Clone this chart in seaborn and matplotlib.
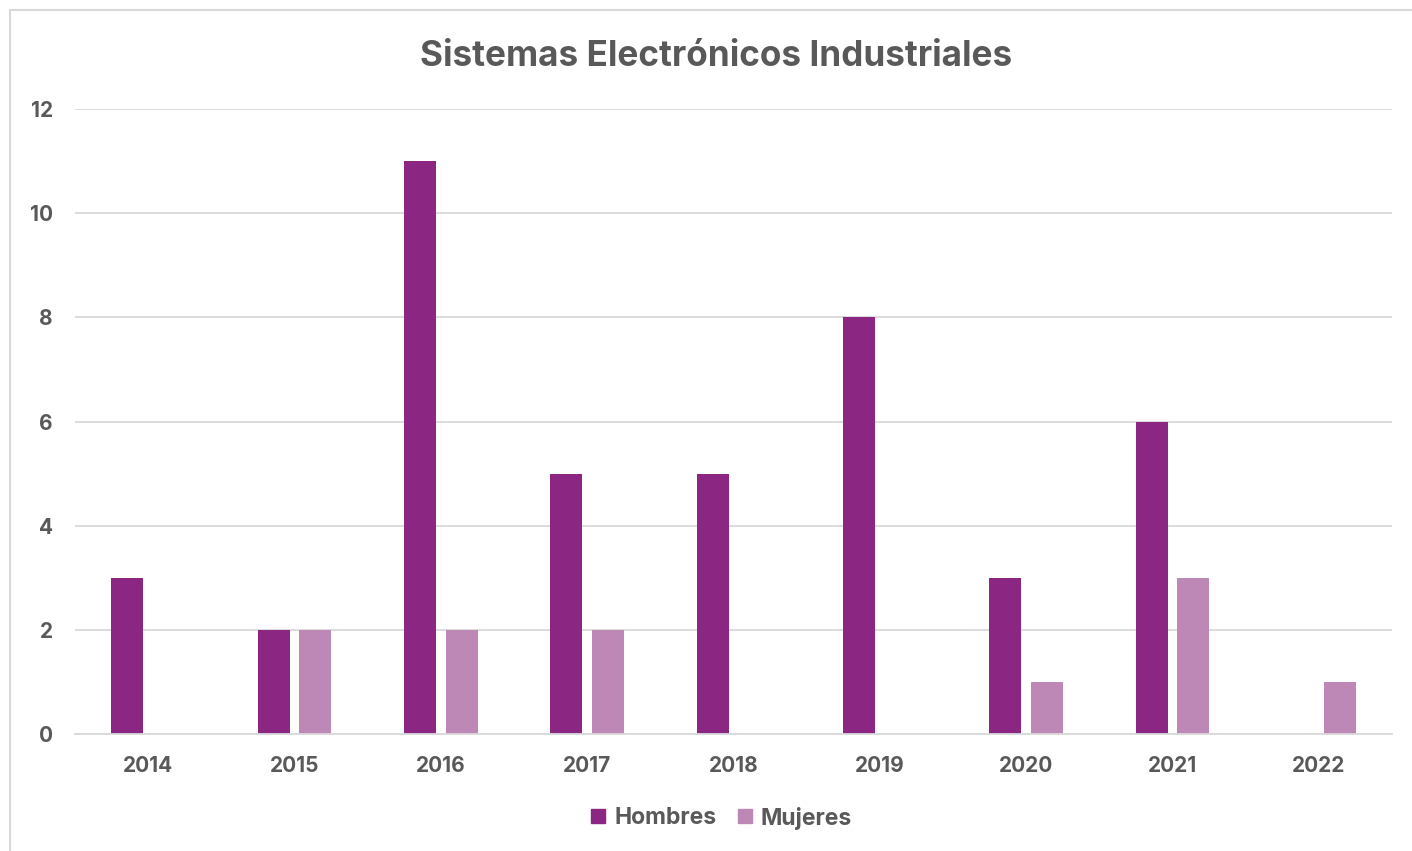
import matplotlib
matplotlib.use("Agg")
import matplotlib.pyplot as plt
import seaborn as sns
import pandas as pd
from matplotlib.lines import Line2D

years = ["2014", "2015", "2016", "2017", "2018", "2019", "2020", "2021", "2022"]
hombres = [3, 2, 11, 5, 5, 8, 3, 6, 0]
mujeres = [0, 2, 2, 2, 0, 0, 1, 3, 1]
series = ["Hombres", "Mujeres"]
colors = ["#8B2682", "#BD88B6"]
title = "Sistemas Electrónicos Industriales"

df = pd.DataFrame({
    "year": years * 2,
    "value": hombres + mujeres,
    "serie": [series[0]] * len(years) + [series[1]] * len(years),
})

sns.set_style("white")
plt.rcParams["font.family"] = ["Inter", "DejaVu Sans"]
text_col = "#595959"

fig = plt.figure(figsize=(14.12, 8.51), dpi=100)
ax = fig.add_axes([75 / 1412, 1 - 734 / 851, (1392 - 75) / 1412, (734 - 109) / 851])

sns.barplot(data=df, x="year", y="value", hue="serie", palette=colors,
            width=0.57, gap=0.23, ax=ax, legend=False, saturation=1,
            linewidth=0, edgecolor="none")

ax.set_ylim(0, 12)
ax.set_xlim(-0.5, len(years) - 0.5)
ax.set_yticks(range(0, 13, 2))
ax.yaxis.grid(True, color="#D9D9D9", linewidth=1.3)
ax.set_axisbelow(True)
for s in ["top", "right", "left"]:
    ax.spines[s].set_visible(False)
ax.spines["bottom"].set_color("#D9D9D9")
ax.spines["bottom"].set_linewidth(1.3)
ax.tick_params(axis="both", length=0, labelsize=15, labelcolor=text_col)
ax.tick_params(axis="x", pad=16)
ax.tick_params(axis="y", pad=16)
for lab in ax.get_xticklabels() + ax.get_yticklabels():
    lab.set_fontweight("bold")
ax.set_xlabel("")
ax.set_ylabel("")

fig.text(716 / 1412, 1 - 56 / 851, title, ha="center", va="center",
         fontsize=25.3, fontweight="bold", color=text_col)

handles = [Line2D([], [], marker="s", linestyle="", markersize=9.5,
                  markerfacecolor=c, markeredgecolor=c) for c in colors]
fig.legend(handles, series, loc="center", bbox_to_anchor=(721 / 1412, 1 - 818 / 851),
           ncol=2, frameon=False, handlelength=0.7, handletextpad=0.35,
           columnspacing=0.9, prop={"weight": "bold", "size": 16.5},
           labelcolor=text_col)

# outer border (top and left only visible)
fig.add_artist(Line2D([10 / 1412, 1], [1 - 10 / 851, 1 - 10 / 851],
                      transform=fig.transFigure, color="#D9D9D9", linewidth=1.5))
fig.add_artist(Line2D([10 / 1412, 10 / 1412], [0, 1 - 10 / 851],
                      transform=fig.transFigure, color="#D9D9D9", linewidth=1.5))

fig.savefig("out.png", dpi=100, facecolor="white")
